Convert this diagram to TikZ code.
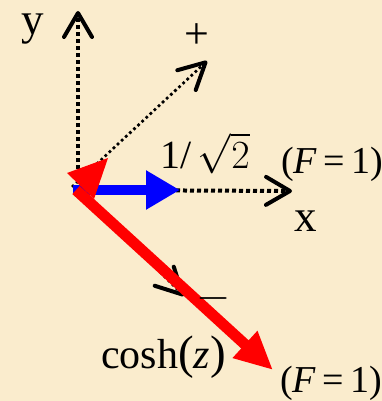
\documentclass[tikz,border=0pt]{standalone}
\usepackage{fix-cm}
\usepackage{fontspec}
\setmainfont{Liberation Serif}
\usepackage{xcolor}
\definecolor{parch}{RGB}{250,236,205}
\definecolor{vred}{RGB}{255,0,0}
\definecolor{vblue}{RGB}{0,0,255}
\usetikzlibrary{arrows.meta}

\begin{document}
\begin{tikzpicture}[x=1pt,y=-1pt,
  axisline/.style={line width=4pt, dash pattern=on 4pt off 3pt,
                   -{Straight Barb[length=24pt,width=28pt,line width=4pt,round]}},
  diagline/.style={line width=3.8pt, line cap=round, dash pattern=on 0pt off 5.6pt,
                   -{Straight Barb[length=26pt,width=27pt,line width=4pt,round]}},
  vec/.style={line width=#1, -{Triangle[length=34pt,width=37pt]}},
  lbl/.style={font=\fontsize{38}{40}\selectfont, inner sep=0pt},
  big/.style={font=\fontsize{45}{48}\selectfont, inner sep=0pt}
]
% background
\fill[parch] (0,0) rectangle (382,401);
\useasboundingbox (0,0) rectangle (382,401);

% axes
\coordinate (o) at (78,190);
\coordinate (yend) at (78,11);
\coordinate (xend) at (292,191);
\coordinate (pend) at (207,61);
\coordinate (mend) at (184,296);
\draw[axisline] (o) -- (yend);
\draw[axisline] (o) -- (xend);
\draw[diagline] (73,186) -- (pend);
\draw[diagline] (o) -- (mend);

% field vectors
\draw[vec=10pt, vblue] (73,190) -- (180,190);
\fill[vred] (67,173) -- (108,158) -- (94,199) -- cycle;
\draw[vred, line width=11pt, -{Triangle[length=38pt,width=34pt]}] (76,190) -- (273,370);

% labels
\node[big, anchor=base] (ylbl) at (33,35) {y};
\node[big] (xlbl) at (306,221) {x};
\node[lbl, font=\fontsize{44}{46}\selectfont] (plus) at (197,36) {+};
\node[lbl, font=\fontsize{44}{46}\selectfont] (minus) at (214,298) {$-$};
\node[lbl, font=\fontsize{40}{42}\selectfont, anchor=base west] (amp) at (160,168) {1/\,$\sqrt{2}$};
\node[lbl, anchor=base west] (f1) at (281,173) {(\textit{F}\,=\,1)};
\node[lbl, font=\fontsize{42}{44}\selectfont, anchor=base west] (cosh) at (101,368)
  {cosh{\fontsize{47}{48}\selectfont(}\textit{z}{\fontsize{47}{48}\selectfont)}};
\node[lbl, anchor=base west] (f2) at (280,392) {(\textit{F}\,=\,1)};
\end{tikzpicture}
\end{document}
